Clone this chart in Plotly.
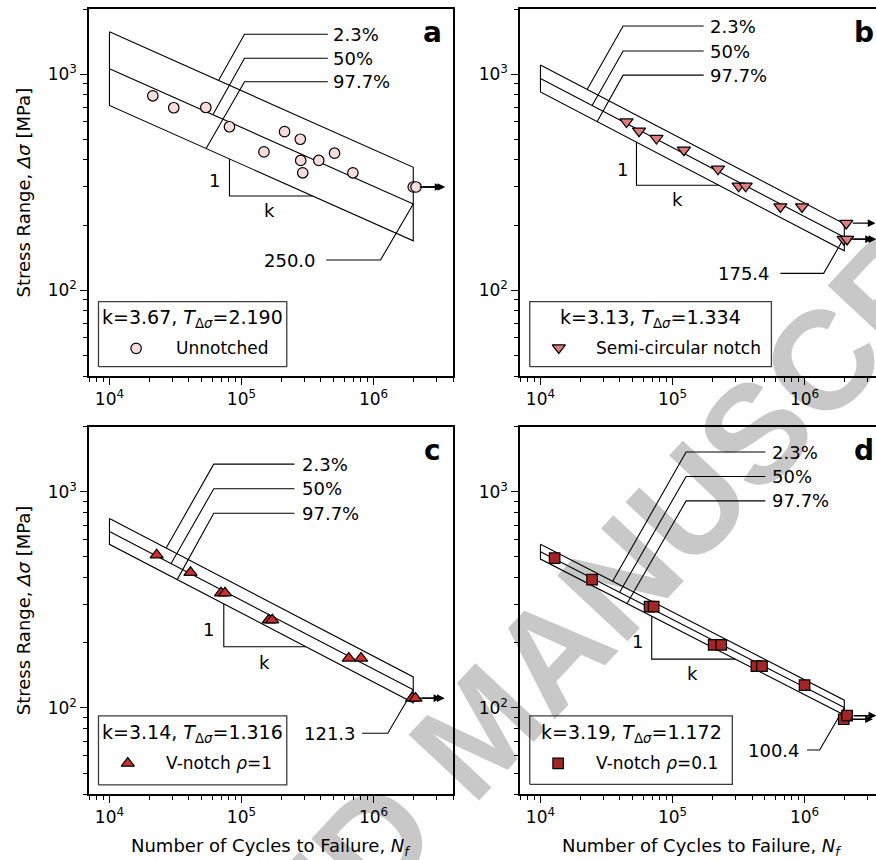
import math
import plotly.graph_objects as go

FONT = "DejaVu Sans"

# ---------------- data ----------------
# (a) Unnotched
unnotched_N = [2.13e4, 3.07e4, 5.37e4, 8.11e4, 1.48e5, 2.12e5, 2.79e5, 2.81e5, 2.91e5, 3.85e5, 5.07e5, 6.98e5]
unnotched_S = [793, 698, 700, 570, 436, 541, 499, 398, 349, 398, 430, 349]
unnotched_runout_N = [2.0e6, 2.1e6]
unnotched_runout_S = [300, 300]

# (b) Semi-circular notch
semi_N = [4.48e4, 5.58e4, 7.56e4, 1.22e5, 2.21e5, 3.17e5, 3.58e5, 6.56e5, 9.57e5]
semi_S = [601, 545, 504, 445, 363, 303, 303, 243, 243]
semi_runout_N = [2.07e6, 1.98e6, 2.1e6]
semi_runout_S = [204, 172, 172]

# (c) V-notch rho=1
v1_N = [2.28e4, 4.11e4, 7.0e4, 7.5e4, 1.61e5, 1.71e5, 6.5e5, 8.05e5]
v1_S = [510, 423, 340, 340, 255, 255, 170, 170]
v1_runout_N = [1.96e6, 2.08e6]
v1_runout_S = [111, 111]

# (d) V-notch rho=0.1
v01_N = [1.28e4, 2.46e4, 6.7e4, 7.2e4, 2.05e5, 2.34e5, 4.32e5, 4.76e5, 1.0e6]
v01_S = [493, 392, 294, 294, 196, 196, 156, 156, 127.6]
v01_runout_N = [1.98e6, 2.1e6]
v01_runout_S = [88.7, 92.1]

# fitted curve parameters (shown on the chart)
slope_k = [3.67, 3.13, 3.14, 3.19]
scatter_T = [2.190, 1.334, 1.316, 1.172]
S_at_2e6 = [250.0, 175.4, 121.3, 100.4]
REF_N = 2e6
LINE_N = [1e4, 2e6]
percent_labels = ["2.3%", "50%", "97.7%"]
series_labels = ["Unnotched", "Semi-circular notch", "V-notch <i>ρ</i>=1", "V-notch <i>ρ</i>=0.1"]
panel_letters = ["a", "b", "c", "d"]

x_major = [1e4, 1e5, 1e6]
x_major_text = ["10<sup>4</sup>", "10<sup>5</sup>", "10<sup>6</sup>"]
y_major = [1e2, 1e3]
y_major_text = ["10<sup>2</sup>", "10<sup>3</sup>"]
x_minor = [7e3, 8e3, 9e3] + [m * 10 ** e for e in (4, 5) for m in range(2, 10)] + [2e6, 3e6, 4e6]
y_minor = [40, 50, 60, 70, 80, 90] + [m * 100 for m in range(2, 10)] + [2000]

# ---------------- styling / annotation geometry (log10 units) ----------------
styles = [
    dict(symbol="circle", color="#f7dcdc", size=10.5),
    dict(symbol="triangle-down", color="#e07c7c", size=11.5),
    dict(symbol="triangle-up", color="#cd2f2f", size=11.5),
    dict(symbol="square", color="#a32525", size=10.5),
]
geo = [
    dict(lead_start=[4.826, 4.783, 4.732], kink_x=5.023, kink_y=[3.184, 3.073, 2.964], end_x=5.654, pct_x=5.679,
         ref_kink=(6.053, 2.139), ref_end=5.642, ref_text=5.580,
         tri=(4.909, 5.538), one=(4.795, 2.509), kpos=(5.212, 2.367),
         box=(3.917, 5.343, 1.645, 1.946), title=(4.630, 1.866), mk=(4.202, 1.730), lab=4.487),
    dict(lead_start=[4.3535, 4.391, 4.429], kink_x=4.626, kink_y=[3.222, 3.1065, 2.995], end_x=5.236, pct_x=5.270,
         ref_kink=(6.1446, 2.0773), ref_end=5.817, ref_text=5.757,
         tri=(4.727, 5.350), one=(4.618, 2.556), kpos=(5.035, 2.417),
         box=(3.919, 5.749, 1.645, 1.946), title=(4.834, 1.866), mk=(4.139, 1.733), lab=4.409),
    dict(lead_start=[4.4295, 4.467, 4.513], kink_x=4.790, kink_y=[3.128, 3.014, 2.901], end_x=5.4015, pct_x=5.440,
         ref_kink=(6.108, 1.8829), ref_end=5.914, ref_text=5.884,
         tri=(4.866, 5.489), one=(4.752, 2.361), kpos=(5.174, 2.210),
         box=(3.917, 5.343, 1.644, 1.963), title=(4.630, 1.883), mk=(4.139, 1.744), lab=4.411),
    dict(lead_start=[4.547, 4.600, 4.656], kink_x=5.103, kink_y=[3.184, 3.071, 2.958], end_x=5.703, pct_x=5.740,
         ref_kink=(6.114, 1.8056), ref_end=6.019, ref_text=5.984,
         tri=(4.8425, 5.476), one=(4.732, 2.307), kpos=(5.148, 2.161),
         box=(3.919, 5.453, 1.647, 1.963), title=(4.687, 1.883), mk=(4.134, 1.744), lab=4.409),
]
series = [
    (unnotched_N, unnotched_S, unnotched_runout_N, unnotched_runout_S),
    (semi_N, semi_S, semi_runout_N, semi_runout_S),
    (v1_N, v1_S, v1_runout_N, v1_runout_S),
    (v01_N, v01_S, v01_runout_N, v01_runout_S),
]

W, H = 876, 860
xdoms = [[89 / W, 453 / W], [520 / W, 1.0], [89 / W, 453 / W], [520 / W, 1.0]]
ydoms = [[1 - 376 / H, 1 - 9 / H], [1 - 376 / H, 1 - 9 / H], [1 - 794 / H, 1 - 426.7 / H], [1 - 794 / H, 1 - 426.7 / H]]
XR_FULL = [math.log10(7e3), math.log10(4e6)]
XR_CUT = [math.log10(7e3), math.log10(7e3) + 356 / 132.05]
YR = [math.log10(40), math.log10(2000)]

LW = 1.1
fig = go.Figure()
ann = []


def lg(v):
    return math.log10(v)


for i in range(4):
    xa = "x" if i == 0 else f"x{i + 1}"
    ya = "y" if i == 0 else f"y{i + 1}"
    k, T, S0 = slope_k[i], scatter_T[i], S_at_2e6[i]
    hT = 0.5 * math.log10(T)

    def mean_log(lN):
        return math.log10(S0) + (math.log10(REF_N) - lN) / k

    def at(lN, off):
        return 10 ** (mean_log(lN) + off)

    g = geo[i]
    line = dict(color="black", width=LW)
    common = dict(xaxis=xa, yaxis=ya, showlegend=False, hoverinfo="skip")
    # scatter band (2.3% / 97.7%) closed box and mean line
    n0, n1 = LINE_N
    bx = [n0, n1, n1, n0, n0]
    by = [at(lg(n0), hT), at(lg(n1), hT), at(lg(n1), -hT), at(lg(n0), -hT), at(lg(n0), hT)]
    fig.add_trace(go.Scatter(x=bx, y=by, mode="lines", line=line, **common))
    fig.add_trace(go.Scatter(x=LINE_N, y=[at(lg(n), 0) for n in LINE_N], mode="lines", line=line, **common))
    # leader lines for percent labels
    lx, ly = [], []
    for j, off in enumerate([hT, 0, -hT]):
        s = g["lead_start"][j]
        lx += [10 ** s, 10 ** g["kink_x"], 10 ** g["end_x"], None]
        ly += [at(s, off), 10 ** g["kink_y"][j], 10 ** g["kink_y"][j], None]
        ann.append(dict(x=g["pct_x"], y=g["kink_y"][j], xref=xa, yref=ya, text=percent_labels[j],
                        showarrow=False, xanchor="left", yanchor="middle",
                        font=dict(family=FONT, size=18, color="black")))
    # leader for reference value
    rk = g["ref_kink"]
    lx += [REF_N, 10 ** rk[0], 10 ** g["ref_end"]]
    ly += [S0, 10 ** rk[1], 10 ** rk[1]]
    fig.add_trace(go.Scatter(x=lx, y=ly, mode="lines", line=line, connectgaps=False, **common))
    ann.append(dict(x=g["ref_text"], y=rk[1], xref=xa, yref=ya, text=f"{S0:.1f}", showarrow=False,
                    xanchor="right", yanchor="middle", font=dict(family=FONT, size=18, color="black")))
    # slope triangle
    t1, t2 = g["tri"]
    fig.add_trace(go.Scatter(x=[10 ** t1, 10 ** t1, 10 ** t2], y=[at(t1, -hT), at(t2, -hT), at(t2, -hT)],
                             mode="lines", line=line, **common))
    ann.append(dict(x=g["one"][0], y=g["one"][1], xref=xa, yref=ya, text="1", showarrow=False,
                    xanchor="center", yanchor="middle", font=dict(family=FONT, size=18, color="black")))
    ann.append(dict(x=g["kpos"][0], y=g["kpos"][1], xref=xa, yref=ya, text="k", showarrow=False,
                    xanchor="center", yanchor="middle", font=dict(family=FONT, size=18, color="black")))
    # legend box
    b = g["box"]
    fig.add_trace(go.Scatter(x=[10 ** b[0], 10 ** b[1], 10 ** b[1], 10 ** b[0], 10 ** b[0]],
                             y=[10 ** b[2], 10 ** b[2], 10 ** b[3], 10 ** b[3], 10 ** b[2]],
                             mode="lines", line=dict(color="#3c3c3c", width=1.3), **common))
    st = styles[i]
    mk = dict(symbol=st["symbol"], color=st["color"], size=st["size"], line=dict(color="black", width=1.2))
    N, S, rN, rS = series[i]
    fig.add_trace(go.Scatter(x=N, y=S, mode="markers", marker=mk, **common))
    fig.add_trace(go.Scatter(x=rN, y=rS, mode="markers", marker=mk, **common))
    fig.add_trace(go.Scatter(x=[10 ** g["mk"][0]], y=[10 ** g["mk"][1]], mode="markers", marker=mk, **common))
    ann.append(dict(x=g["title"][0], y=g["title"][1], xref=xa, yref=ya,
                    text=f"k={k:.2f}, <i>T</i><sub>Δ<i>σ</i></sub>={T:.3f}", showarrow=False,
                    xanchor="center", yanchor="middle", font=dict(family=FONT, size=19, color="black")))
    ann.append(dict(x=g["lab"], y=g["mk"][1], xref=xa, yref=ya, text=series_labels[i], showarrow=False,
                    xanchor="left", yanchor="middle", font=dict(family=FONT, size=17, color="black")))
    # run-out arrows
    for n, s in zip(rN, rS):
        ann.append(dict(x=lg(n) + 0.221, y=lg(s), ax=lg(n), ay=lg(s), xref=xa, yref=ya, axref=xa, ayref=ya,
                        text="", showarrow=True, arrowhead=2, arrowsize=1.1, arrowwidth=1.4,
                        arrowcolor="black", startstandoff=5))
    # panel letter
    ann.append(dict(x=6.447, y=3.19, xref=xa, yref=ya, text=f"<b>{panel_letters[i]}</b>", showarrow=False,
                    xanchor="center", yanchor="middle", font=dict(family=FONT, size=28, color="black")))

    full = i in (0, 2)
    axx = dict(type="log", domain=xdoms[i], range=XR_FULL if full else XR_CUT, anchor=ya,
               showline=True, linecolor="black", linewidth=1.5, mirror=True,
               ticks="outside", ticklen=7, tickwidth=1.3, tickcolor="black",
               tickmode="array", tickvals=x_major, ticktext=x_major_text,
               tickfont=dict(family=FONT, size=17, color="black"),
               minor=dict(tickmode="array", tickvals=x_minor, ticks="outside", ticklen=4, tickwidth=1,
                          tickcolor="black", showgrid=False),
               showgrid=False, zeroline=False)
    axy = dict(type="log", domain=ydoms[i], range=YR, anchor=xa,
               showline=True, linecolor="black", linewidth=1.5, mirror=full,
               ticks="outside", ticklen=7, tickwidth=1.3, tickcolor="black",
               tickmode="array", tickvals=y_major, ticktext=y_major_text,
               tickfont=dict(family=FONT, size=17, color="black"),
               minor=dict(tickmode="array", tickvals=y_minor, ticks="outside", ticklen=4, tickwidth=1,
                          tickcolor="black", showgrid=False),
               showgrid=False, zeroline=False)
    fig.layout["xaxis" if i == 0 else f"xaxis{i + 1}"] = axx
    fig.layout["yaxis" if i == 0 else f"yaxis{i + 1}"] = axy

# axis titles
ytitle = "Stress Range, <i>Δσ</i> [MPa]"
xtitle = "Number of Cycles to Failure, <i>N</i><sub><i>f</i></sub>"
for yc in (1 - 192.5 / H, 1 - 610.3 / H):
    ann.append(dict(x=23 / W, y=yc, xref="paper", yref="paper", text=ytitle, textangle=-90, showarrow=False,
                    xanchor="center", yanchor="middle", font=dict(family=FONT, size=18, color="black")))
for xc in (271 / W, 702 / W):
    ann.append(dict(x=xc, y=1 - 846.7 / H, xref="paper", yref="paper", text=xtitle, showarrow=False,
                    xanchor="center", yanchor="middle", font=dict(family=FONT, size=18, color="black")))

# watermark (drawn beneath everything), two words placed along one diagonal
WM_ANGLE = 47
for word, (px, py) in (("MANUSCRIPT", (746, 424)), ("ACCEPTED", (137, 1077))):
    wx, wy = px / W, 1 - py / H
    fig.add_shape(type="line", xref="paper", yref="paper", x0=wx - 0.02, y0=wy, x1=wx + 0.02, y1=wy,
                  line=dict(color="rgba(0,0,0,0)", width=1), layer="below",
                  label=dict(text=f"<b>{word}</b>", textangle=-WM_ANGLE, textposition="middle",
                             xanchor="center", yanchor="middle", padding=0,
                             font=dict(family="Liberation Sans", size=140, color="#c8c8c8")))

fig.update_layout(width=W, height=H, margin=dict(l=0, r=0, t=0, b=0), paper_bgcolor="white",
                  plot_bgcolor="rgba(0,0,0,0)", showlegend=False, annotations=ann)
fig.write_html("out.html", config={"displayModeBar": False},
               post_script="document.body.style.margin='0px';document.body.style.overflow='hidden';")
